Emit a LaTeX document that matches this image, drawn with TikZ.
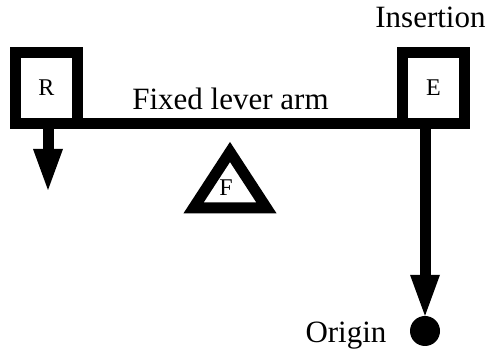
\documentclass[tikz,border=0pt]{standalone}
\usepackage{fontspec}
\setmainfont{Liberation Serif}
\usetikzlibrary{arrows.meta}

\tikzset{
  joint/.style={draw, line width=11pt, minimum width=62pt, minimum height=71pt,
    inner sep=0pt, outer sep=0pt, font=\fontsize{24}{24}\selectfont},
  beam/.style={line width=11pt},
  force/.style={line width=11pt, -{Triangle[width=30pt,length=41pt,line width=0pt]}},
  caption/.style={font=\fontsize{31}{31}\selectfont, anchor=base, inner sep=0pt},
}

\begin{document}
\begin{tikzpicture}[x=1pt,y=-1pt]
  \useasboundingbox (0,0) rectangle (488,352);
  % resistance and effort ends of the lever
  \node[joint] (R) at (46.5,88) {R};
  \node[joint] (E) at (433.5,88) {E};
  \draw[beam, line cap=rect] (R.south west) -- (E.south east);
  \node[caption] (arm) at (230.5,110) {Fixed lever arm};
  \node[caption] (ins) at (430.5,28) {Insertion};
  % fulcrum
  \draw[beam, line join=miter] (193.5,208) -- (230,152) -- (266.5,208) -- cycle;
  \node[anchor=base, inner sep=0pt, font=\fontsize{24}{24}\selectfont] (F) at (226,196) {F};
  % load at R, pull of the muscle at E
  \coordinate (load) at (48,190);
  \draw[force] (R.south -| load) -- (load);
  \node[circle, fill, minimum size=30pt, inner sep=0pt] (origin) at (425,331) {};
  \draw[force] (E.south -| origin) -- (origin.north);
  \node[caption] (orig) at (346,343) {Origin};
\end{tikzpicture}
\end{document}
